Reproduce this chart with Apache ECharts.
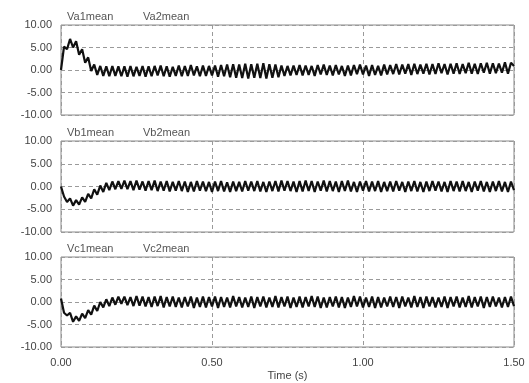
<!DOCTYPE html>
<html>
<head>
<meta charset="utf-8">
<script src="https://cdn.jsdelivr.net/npm/echarts@6/dist/echarts.min.js"></script>
<style>
  html, body { margin: 0; padding: 0; background: #fff; }
  #chart { width: 529px; height: 383px; }
</style>
</head>
<body>
<div id="chart"></div>
<script>
// sample step of the recorded traces (s)
var timeStep = 0.01;
var xTicks = ['0.00', '0.50', '1.00', '1.50'];
var yTicks = ['-10.00', '-5.00', '0.00', '5.00', '10.00'];
var panelNames = [['Va1mean', 'Va2mean'], ['Vb1mean', 'Vb2mean'], ['Vc1mean', 'Vc2mean']];

// phase a, values (0.00 .. 1.50 s)
var vaMean = [
  0, 5.2, 4.6, 6.9, 5.0, 6.4, 3.4, 4.6, 1.6, 2.8,
  -0.2, 1.2, -1.1, 0.9, -1.3, 0.8, -1.4, 0.9, -1.3, 0.8,
  -1.4, 0.8, -1.5, 0.9, -1.4, 0.7, -1.3, 0.9, -1.5, 0.8,
  -1.4, 0.9, -1.2, 1.0, -1.4, 0.8, -1.5, 0.7, -1.3, 1.0,
  -1.4, 0.9, -1.3, 1.1, -1.2, 0.8, -1.4, 1.0, -1.3, 0.9,
  -1.2, 1.0, -1.5, 1.1, -1.4, 1.2, -1.6, 1.3, -1.7, 1.2,
  -1.8, 1.4, -1.9, 1.3, -1.7, 1.4, -1.8, 1.5, -1.9, 1.3,
  -1.7, 1.2, -1.6, 1.0, -1.3, 0.9, -1.2, 1.0, -1.1, 1.1,
  -1.2, 1.0, -1.1, 0.9, -1.3, 1.1, -1.0, 1.2, -1.1, 1.0,
  -1.2, 1.1, -1.0, 0.9, -1.3, 1.0, -1.2, 1.1, -0.9, 1.2,
  -1.0, 1.0, -1.3, 1.1, -1.1, 0.9, -1.2, 1.2, -1.0, 1.1,
  -0.9, 1.3, -1.0, 1.2, -0.8, 1.3, -1.1, 1.4, -0.9, 1.2,
  -0.8, 1.4, -1.0, 1.3, -0.9, 1.5, -0.7, 1.3, -1.0, 1.4,
  -0.8, 1.5, -0.9, 1.3, -0.7, 1.6, -0.8, 1.4, -0.9, 1.5,
  -0.6, 1.6, -0.8, 1.5, -0.7, 1.4, -0.6, 1.7, -0.8, 1.6,
  0.9
];

// phase b
var vbMean = [
  0, -2.2, -3.4, -2.6, -4.2, -3.0, -4.0, -2.4, -3.4, -1.6,
  -2.6, -0.6, -1.8, 0.2, -1.2, 0.8, -0.8, 1.1, -0.6, 1.2,
  -0.5, 1.3, -0.6, 1.2, -0.8, 1.3, -0.7, 1.1, -0.9, 1.2,
  -0.8, 1.3, -1.0, 1.1, -0.9, 1.2, -1.1, 1.0, -0.9, 1.2,
  -1.0, 1.1, -1.2, 1.0, -1.1, 1.2, -0.9, 1.1, -1.0, 1.0,
  -1.2, 1.1, -1.0, 1.2, -1.1, 0.9, -1.2, 1.1, -1.0, 1.0,
  -1.1, 1.2, -0.9, 1.1, -1.0, 1.2, -1.1, 1.0, -1.2, 1.1,
  -1.0, 1.2, -1.1, 1.3, -0.9, 1.2, -1.0, 1.1, -1.2, 1.2,
  -1.1, 1.3, -1.0, 1.2, -1.2, 1.1, -0.9, 1.3, -1.1, 1.2,
  -1.0, 1.1, -1.2, 1.2, -1.0, 1.3, -1.1, 1.0, -1.2, 1.1,
  -0.9, 1.2, -1.1, 1.1, -1.0, 1.2, -1.2, 1.0, -1.0, 1.1,
  -1.1, 1.2, -0.9, 1.0, -1.2, 1.1, -1.0, 1.2, -1.1, 1.0,
  -1.2, 1.1, -1.0, 1.2, -0.9, 1.1, -1.1, 1.0, -1.2, 1.2,
  -1.0, 1.1, -1.1, 1.2, -1.0, 1.0, -1.2, 1.1, -0.9, 1.2,
  -1.1, 1.0, -1.2, 1.1, -1.0, 1.2, -1.1, 1.0, -1.2, 1.1,
  -0.8
];

// phase c
var vcMean = [
  0.8, -2.4, -3.0, -2.4, -4.4, -3.2, -4.2, -2.6, -3.6, -1.8,
  -2.8, -0.8, -2.0, 0.0, -1.2, 0.6, -0.9, 1.0, -0.6, 1.2,
  -0.4, 1.2, -0.7, 1.1, -0.9, 1.3, -0.8, 1.2, -1.0, 1.1,
  -1.1, 1.2, -0.9, 1.3, -1.2, 1.1, -1.0, 1.2, -1.1, 1.0,
  -1.2, 1.1, -1.0, 1.2, -1.3, 1.0, -1.1, 1.2, -1.2, 1.1,
  -1.0, 1.2, -1.3, 1.1, -1.1, 1.0, -1.2, 1.3, -1.0, 1.1,
  -1.2, 1.0, -1.1, 1.2, -1.3, 1.1, -1.0, 1.2, -1.2, 1.0,
  -1.1, 1.3, -1.2, 1.1, -1.0, 1.2, -1.3, 1.0, -1.1, 1.2,
  -1.2, 1.1, -1.0, 1.3, -1.1, 1.2, -1.3, 1.0, -1.2, 1.1,
  -1.0, 1.2, -1.2, 1.1, -1.3, 1.0, -1.1, 1.3, -1.0, 1.2,
  -1.2, 1.0, -1.1, 1.2, -1.3, 1.1, -1.2, 1.0, -1.0, 1.2,
  -1.1, 1.1, -1.3, 1.2, -1.0, 1.0, -1.2, 1.3, -1.1, 1.1,
  -1.3, 1.2, -1.0, 1.1, -1.2, 1.0, -1.1, 1.2, -1.3, 1.1,
  -1.0, 1.2, -1.2, 1.0, -1.1, 1.3, -1.2, 1.1, -1.0, 1.2,
  -1.3, 1.1, -1.1, 1.2, -1.0, 1.0, -1.2, 1.1, -1.1, 1.2,
  -0.9
];

var font = 'Liberation Sans, Arial, sans-serif';

// pair each value with its sample time
function toPoints(values) {
  return values.map(function (v, i) {
    return [+(i * timeStep).toFixed(2), v];
  });
}

var chart = echarts.init(document.getElementById('chart'), null, { renderer: 'canvas' });

var gridTops = [25, 141, 257];
var gridHeights = [90, 91, 90];
var panels = [vaMean, vbMean, vcMean];

var grids = [], xAxes = [], yAxes = [], series = [], titles = [];

panels.forEach(function (values, k) {
  grids.push({
    left: 61, width: 453, top: gridTops[k], height: gridHeights[k],
    show: true, borderColor: '#8a8a8a', borderWidth: 1, backgroundColor: 'transparent'
  });
  xAxes.push({
    gridIndex: k,
    type: 'value',
    min: 0, max: 1.5, interval: 0.5,
    axisLine: { show: false },
    axisTick: { show: false },
    axisLabel: {
      show: k === 2,
      margin: 10,
      color: '#444',
      fontSize: 11,
      fontFamily: font,
      formatter: function (v) { return xTicks[Math.round(v / 0.5)]; }
    },
    splitLine: { show: true, lineStyle: { color: '#9a9a9a', type: [4, 3], width: 1 } },
    name: k === 2 ? 'Time (s)' : '',
    nameLocation: 'middle',
    nameGap: 23,
    nameTextStyle: { color: '#444', fontSize: 11, fontFamily: font }
  });
  yAxes.push({
    gridIndex: k,
    type: 'value',
    min: -10, max: 10, interval: 5,
    axisLine: { show: false },
    axisTick: { show: false },
    axisLabel: {
      margin: 9,
      color: '#444',
      fontSize: 11,
      fontFamily: font,
      formatter: function (v) { return yTicks[Math.round((v + 10) / 5)]; }
    },
    splitLine: { show: true, lineStyle: { color: '#9a9a9a', type: [4, 3], width: 1 } }
  });
  series.push({
    name: panelNames[k][0],
    type: 'line',
    xAxisIndex: k,
    yAxisIndex: k,
    data: toPoints(values),
    showSymbol: false,
    lineStyle: { color: '#111', width: 2.2 },
    itemStyle: { color: '#111' }
  });
  titles.push({
    text: panelNames[k][0],
    left: 62, top: gridTops[k] - 19,
    textStyle: { color: '#555', fontSize: 11, fontWeight: 'normal', fontFamily: font }
  });
  titles.push({
    text: panelNames[k][1],
    left: 138, top: gridTops[k] - 19,
    textStyle: { color: '#555', fontSize: 11, fontWeight: 'normal', fontFamily: font }
  });
});

chart.setOption({
  animation: false,
  backgroundColor: '#fff',
  title: titles,
  grid: grids,
  xAxis: xAxes,
  yAxis: yAxes,
  series: series
});
</script>
</body>
</html>
